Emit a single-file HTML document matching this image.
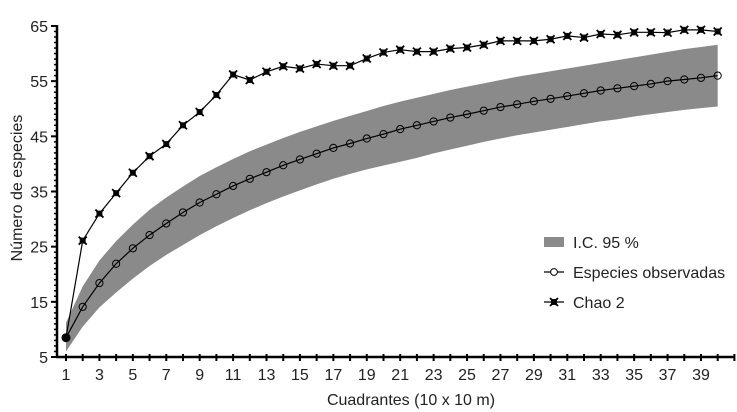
<!DOCTYPE html>
<html><head><meta charset="utf-8"><style>
body{margin:0;background:#fff}
svg{display:block;font-family:"Liberation Sans","DejaVu Sans",sans-serif}
</style></head><body>
<svg id="c" width="737" height="412" viewBox="0 0 737 412"></svg>
<script>
const xs = Array.from({length:40},(_,i)=>i+1);
const chao2 = [8.5,26.1,31.0,34.7,38.4,41.4,43.6,47.0,49.4,52.5,56.2,55.2,56.7,57.7,57.3,58.1,57.8,57.8,59.1,60.2,60.7,60.35,60.35,60.9,61.1,61.6,62.3,62.3,62.3,62.6,63.2,62.9,63.55,63.4,63.85,63.85,63.8,64.3,64.3,64.0];
const observed = [8.5,14.1,18.4,21.9,24.7,27.1,29.2,31.2,33.0,34.5,36.0,37.3,38.5,39.75,40.8,41.85,42.9,43.7,44.6,45.4,46.3,47.0,47.7,48.4,49.0,49.65,50.3,50.8,51.35,51.8,52.3,52.8,53.3,53.7,54.1,54.5,55.0,55.3,55.6,56.0];
const ciUpper = [11.2,17.8,22.5,26.0,29.0,31.7,33.9,35.9,37.8,39.4,40.9,42.3,43.5,44.7,45.8,46.8,47.8,48.7,49.6,50.5,51.3,52.0,52.7,53.4,54.0,54.6,55.2,55.8,56.3,56.8,57.3,57.8,58.3,58.8,59.3,59.8,60.3,60.8,61.2,61.6];
const ciLower = [6.0,10.5,14.0,16.7,19.2,21.5,23.5,25.3,27.1,28.7,30.2,31.6,32.9,34.1,35.2,36.3,37.3,38.2,39.0,39.7,40.4,41.1,41.9,42.6,43.3,44.0,44.6,45.2,45.7,46.2,46.7,47.2,47.7,48.1,48.6,49.0,49.4,49.8,50.1,50.4];
const yTicks = [5,15,25,35,45,55,65];
const xLabels = [1,3,5,7,9,11,13,15,17,19,21,23,25,27,29,31,33,35,37,39];

const NS="http://www.w3.org/2000/svg", svg=document.getElementById('c');
const X = v => 66 + (v-1)*16.71;
const Y = v => 357 - (v-5)*5.517;
function mk(tag, attrs, parent){const e=document.createElementNS(NS,tag);for(const k in attrs)e.setAttribute(k,attrs[k]);(parent||svg).appendChild(e);return e;}

let d = xs.map((x,i)=>(i?'L':'M')+X(x)+','+Y(ciUpper[i])).join('') + xs.slice().reverse().map((x,j)=>{const i=xs.length-1-j;return 'L'+X(x)+','+Y(ciLower[i]);}).join('')+'Z';
const band = mk('path',{d:d,fill:'#8a8a8a'});



const ya = mk('line',{x1:57,y1:25,x2:57,y2:358,stroke:'#000','stroke-width':2.5});


const xa = mk('line',{x1:56,y1:357,x2:734,y2:357,stroke:'#000','stroke-width':2.5});


for(let v=5; v<=65; v++){
  const major = (v-5)%10===0;
  mk('line',{x1:major?51:54,y1:Y(v),x2:57,y2:Y(v),stroke:'#000','stroke-width':major?2:1.5});
}
yTicks.forEach(v=>{
  const t = mk('text',{x:48,y:Y(v)+6,'text-anchor':'end','font-size':16,fill:'#222'});
  t.textContent = v;
  
  
});
for(let v=1; v<=41; v++){
  mk('line',{x1:X(v),y1:354,x2:X(v),y2:361,stroke:'#000','stroke-width':2});
}
xLabels.forEach(v=>{
  const t = mk('text',{x:X(v),y:380,'text-anchor':'middle','font-size':16,fill:'#222'});
  t.textContent = v;
  
  
});
const xt = mk('text',{x:411,y:405,'text-anchor':'middle','font-size':16,fill:'#222'});
xt.textContent = 'Cuadrantes (10 x 10 m)';


const yt = mk('text',{x:0,y:0,'text-anchor':'middle','font-size':16,fill:'#222',transform:'translate(22,188) rotate(-90)'});
yt.textContent = 'Número de especies';



const lo = mk('polyline',{points:xs.map((x,i)=>X(x)+','+Y(observed[i])).join(' '),fill:'none',stroke:'#000','stroke-width':1.2});


const lc = mk('polyline',{points:xs.map((x,i)=>X(x)+','+Y(chao2[i])).join(' '),fill:'none',stroke:'#000','stroke-width':1.2});



function cross(cx,cy,p){
  const g = mk('g',{},p);
  mk('rect',{x:cx-3,y:cy-3,width:6,height:6,fill:'#111'},g);
  mk('path',{d:`M${cx-4},${cy-4}L${cx+4},${cy+4}M${cx+4},${cy-4}L${cx-4},${cy+4}`,stroke:'#000','stroke-width':1.8},g);
  return g;
}
xs.forEach((x,i)=>{
  if(i===0) return;
  const c = mk('circle',{cx:X(x),cy:Y(observed[i]),r:3.6,fill:'none',stroke:'#000','stroke-width':1});
  
  
  const m = cross(X(x),Y(chao2[i]));
  
  
});
const p1 = mk('circle',{cx:X(1),cy:Y(observed[0]),r:4.5,fill:'#000'});



const lg = mk('g',{});


mk('rect',{x:544,y:237,width:20,height:10,fill:'#8a8a8a'},lg);
mk('line',{x1:544,y1:272,x2:564,y2:272,stroke:'#000','stroke-width':1.2},lg);
mk('circle',{cx:554,cy:272,r:3.4,fill:'#fff',stroke:'#000'},lg);
mk('line',{x1:544,y1:302,x2:564,y2:302,stroke:'#000','stroke-width':1.2},lg);
cross(554,302,lg);
[['I.C. 95 %',248],['Especies observadas',278],['Chao 2',308]].forEach(([s,y])=>{
  const t = mk('text',{x:573,y:y,'font-size':16,fill:'#222'},lg);
  t.textContent = s;
  
  
});
</script>
</body></html>
